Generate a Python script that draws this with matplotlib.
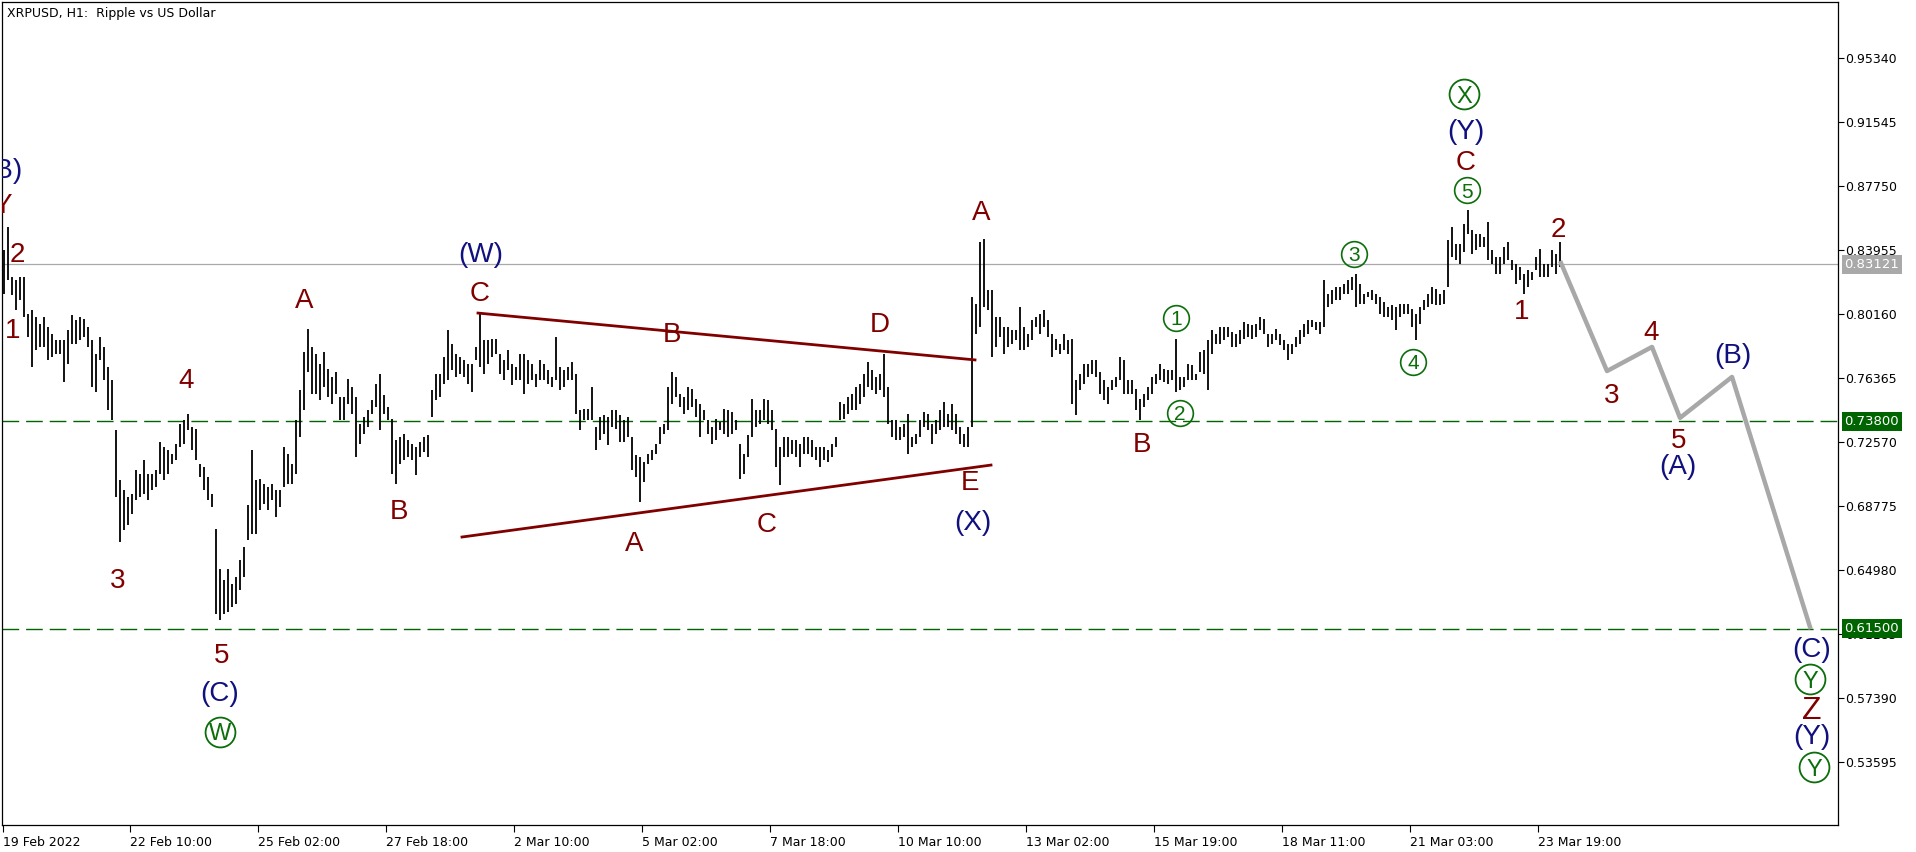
import matplotlib.pyplot as plt
import numpy as np

plt.rcParams['font.family'] = 'DejaVu Sans'

# 2-hour bar ranges (hours counted from 19 Feb 18:00)
highs = [
    0.8395, 0.8533, 0.8237, 0.8217, 0.8237, 0.8237, 0.8019, 0.8039, 0.7999, 0.7959,
    0.7999, 0.7940, 0.7900, 0.7860, 0.7860, 0.7860, 0.7920, 0.8009, 0.7979, 0.7999,
    0.7989, 0.7940, 0.7860, 0.7781, 0.7880, 0.7821, 0.7702, 0.7623, 0.7326, 0.7030,
    0.6970, 0.6931, 0.6950, 0.7089, 0.7069, 0.7148, 0.7069, 0.7069, 0.7089, 0.7257,
    0.7227, 0.7207, 0.7188, 0.7247, 0.7366, 0.7386, 0.7425, 0.7346, 0.7336, 0.7128,
    0.7109, 0.7049, 0.6950, 0.6743, 0.6505, 0.6436, 0.6505, 0.6416, 0.6456, 0.6555,
    0.6634, 0.6881, 0.7207, 0.7030, 0.7040, 0.7010, 0.6990, 0.7010, 0.6970, 0.6970,
    0.7227, 0.7188, 0.7128, 0.7386, 0.7564, 0.7791, 0.7930, 0.7821, 0.7781, 0.7722,
    0.7791, 0.7692, 0.7643, 0.7673, 0.7524, 0.7524, 0.7633, 0.7584, 0.7524, 0.7366,
    0.7405, 0.7445, 0.7504, 0.7603, 0.7663, 0.7534, 0.7465, 0.7396, 0.7267, 0.7287,
    0.7306, 0.7267, 0.7247, 0.7227, 0.7257, 0.7287, 0.7297, 0.7564, 0.7663, 0.7663,
    0.7762, 0.7920, 0.7841, 0.7781, 0.7762, 0.7742, 0.7722, 0.7722, 0.7821, 0.8019,
    0.7860, 0.7860, 0.7870, 0.7870, 0.7781, 0.7742, 0.7801, 0.7722, 0.7702, 0.7781,
    0.7781, 0.7742, 0.7722, 0.7663, 0.7742, 0.7722, 0.7683, 0.7643, 0.7880, 0.7702,
    0.7683, 0.7702, 0.7732, 0.7663, 0.7445, 0.7455, 0.7455, 0.7584, 0.7346, 0.7405,
    0.7415, 0.7405, 0.7445, 0.7445, 0.7415, 0.7386, 0.7405, 0.7287, 0.7178, 0.7168,
    0.7138, 0.7188, 0.7207, 0.7247, 0.7346, 0.7366, 0.7584, 0.7673, 0.7643, 0.7544,
    0.7524, 0.7584, 0.7574, 0.7514, 0.7485, 0.7445, 0.7386, 0.7346, 0.7395, 0.7376,
    0.7455, 0.7445, 0.7435, 0.7386, 0.7247, 0.7188, 0.7297, 0.7514, 0.7445, 0.7445,
    0.7514, 0.7504, 0.7445, 0.7336, 0.7227, 0.7287, 0.7287, 0.7267, 0.7267, 0.7247,
    0.7287, 0.7287, 0.7267, 0.7227, 0.7227, 0.7227, 0.7207, 0.7247, 0.7287, 0.7494,
    0.7484, 0.7524, 0.7544, 0.7584, 0.7603, 0.7663, 0.7732, 0.7683, 0.7643, 0.7663,
    0.7781, 0.7584, 0.7386, 0.7386, 0.7346, 0.7366, 0.7425, 0.7287, 0.7306, 0.7386,
    0.7435, 0.7425, 0.7366, 0.7386, 0.7445, 0.7494, 0.7425, 0.7485, 0.7425, 0.7346,
    0.7306, 0.7346, 0.8118, 0.8078, 0.8444, 0.8464, 0.8157, 0.8157, 0.7999, 0.7999,
    0.7940, 0.7940, 0.7920, 0.7920, 0.8058, 0.7940, 0.7900, 0.7979, 0.7999, 0.8019,
    0.8039, 0.7979, 0.7900, 0.7870, 0.7841, 0.7900, 0.7860, 0.7870, 0.7623, 0.7663,
    0.7722, 0.7722, 0.7742, 0.7742, 0.7673, 0.7623, 0.7584, 0.7623, 0.7643, 0.7762,
    0.7742, 0.7623, 0.7623, 0.7574, 0.7514, 0.7544, 0.7584, 0.7643, 0.7663, 0.7722,
    0.7692, 0.7683, 0.7683, 0.7870, 0.7643, 0.7643, 0.7722, 0.7712, 0.7663, 0.7791,
    0.7801, 0.7860, 0.7920, 0.7900, 0.7940, 0.7940, 0.7940, 0.7910, 0.7900, 0.7920,
    0.7969, 0.7959, 0.7950, 0.7959, 0.7999, 0.7989, 0.7900, 0.7900, 0.7930, 0.7900,
    0.7860, 0.7841, 0.7841, 0.7880, 0.7920, 0.7959, 0.7979, 0.7979, 0.7969, 0.7969,
    0.8217, 0.8137, 0.8157, 0.8177, 0.8177, 0.8197, 0.8217, 0.8236, 0.8256, 0.8197,
    0.8137, 0.8147, 0.8157, 0.8137, 0.8118, 0.8088, 0.8058, 0.8068, 0.8058, 0.8078,
    0.8078, 0.8078, 0.8048, 0.8019, 0.8058, 0.8098, 0.8137, 0.8177, 0.8167, 0.8137,
    0.8157, 0.8454, 0.8533, 0.8434, 0.8434, 0.8553, 0.8632, 0.8513, 0.8493, 0.8493,
    0.8474, 0.8563, 0.8395, 0.8355, 0.8355, 0.8414, 0.8444, 0.8335, 0.8315, 0.8296,
    0.8256, 0.8276, 0.8266, 0.8355, 0.8405, 0.8315, 0.8315, 0.8395, 0.8375, 0.8444,
]
lows = [
    0.8137, 0.8217, 0.8128, 0.8039, 0.8098, 0.7999, 0.7880, 0.7702, 0.7801, 0.7821,
    0.7821, 0.7742, 0.7762, 0.7781, 0.7781, 0.7613, 0.7722, 0.7841, 0.7841, 0.7860,
    0.7880, 0.7821, 0.7584, 0.7554, 0.7742, 0.7623, 0.7445, 0.7386, 0.6931, 0.6664,
    0.6733, 0.6763, 0.6832, 0.6911, 0.6931, 0.6950, 0.6911, 0.6970, 0.6990, 0.7069,
    0.7030, 0.7069, 0.7128, 0.7148, 0.7227, 0.7247, 0.7326, 0.7207, 0.7148, 0.7049,
    0.6970, 0.6911, 0.6871, 0.6238, 0.6199, 0.6238, 0.6248, 0.6278, 0.6298, 0.6377,
    0.6456, 0.6674, 0.6713, 0.6713, 0.6852, 0.6891, 0.6852, 0.6911, 0.6812, 0.6871,
    0.6990, 0.7010, 0.7010, 0.7069, 0.7287, 0.7445, 0.7673, 0.7544, 0.7544, 0.7504,
    0.7584, 0.7524, 0.7485, 0.7544, 0.7386, 0.7386, 0.7485, 0.7425, 0.7168, 0.7247,
    0.7306, 0.7346, 0.7425, 0.7465, 0.7326, 0.7425, 0.7386, 0.7069, 0.7010, 0.7128,
    0.7148, 0.7168, 0.7148, 0.7059, 0.7168, 0.7198, 0.7168, 0.7405, 0.7504, 0.7524,
    0.7603, 0.7623, 0.7683, 0.7643, 0.7663, 0.7643, 0.7603, 0.7554, 0.7742, 0.7702,
    0.7663, 0.7722, 0.7762, 0.7781, 0.7663, 0.7623, 0.7683, 0.7593, 0.7623, 0.7623,
    0.7544, 0.7603, 0.7623, 0.7584, 0.7623, 0.7623, 0.7603, 0.7584, 0.7623, 0.7564,
    0.7584, 0.7623, 0.7623, 0.7425, 0.7326, 0.7386, 0.7386, 0.7386, 0.7207, 0.7267,
    0.7306, 0.7237, 0.7346, 0.7336, 0.7257, 0.7257, 0.7287, 0.7089, 0.7049, 0.6901,
    0.7020, 0.7128, 0.7148, 0.7188, 0.7247, 0.7306, 0.7326, 0.7485, 0.7524, 0.7465,
    0.7425, 0.7445, 0.7465, 0.7405, 0.7287, 0.7386, 0.7306, 0.7247, 0.7267, 0.7326,
    0.7306, 0.7287, 0.7306, 0.7326, 0.7040, 0.7069, 0.7168, 0.7287, 0.7346, 0.7366,
    0.7386, 0.7366, 0.7326, 0.7109, 0.7000, 0.7168, 0.7168, 0.7188, 0.7168, 0.7109,
    0.7188, 0.7188, 0.7168, 0.7148, 0.7109, 0.7148, 0.7138, 0.7168, 0.7227, 0.7386,
    0.7396, 0.7425, 0.7445, 0.7445, 0.7485, 0.7524, 0.7584, 0.7564, 0.7544, 0.7564,
    0.7524, 0.7366, 0.7287, 0.7267, 0.7267, 0.7287, 0.7188, 0.7227, 0.7247, 0.7287,
    0.7346, 0.7326, 0.7247, 0.7306, 0.7326, 0.7346, 0.7346, 0.7326, 0.7306, 0.7247,
    0.7227, 0.7227, 0.7346, 0.7900, 0.7940, 0.8058, 0.8039, 0.7762, 0.7821, 0.7880,
    0.7781, 0.7821, 0.7841, 0.7860, 0.7801, 0.7801, 0.7821, 0.7860, 0.7940, 0.7900,
    0.7940, 0.7880, 0.7762, 0.7801, 0.7781, 0.7801, 0.7781, 0.7485, 0.7415, 0.7564,
    0.7603, 0.7643, 0.7663, 0.7643, 0.7544, 0.7504, 0.7485, 0.7564, 0.7584, 0.7623,
    0.7544, 0.7544, 0.7544, 0.7445, 0.7386, 0.7465, 0.7504, 0.7544, 0.7603, 0.7623,
    0.7613, 0.7603, 0.7623, 0.7554, 0.7564, 0.7584, 0.7623, 0.7623, 0.7623, 0.7673,
    0.7663, 0.7564, 0.7781, 0.7841, 0.7841, 0.7860, 0.7880, 0.7821, 0.7821, 0.7841,
    0.7870, 0.7880, 0.7870, 0.7880, 0.7920, 0.7900, 0.7821, 0.7841, 0.7860, 0.7831,
    0.7801, 0.7742, 0.7781, 0.7821, 0.7841, 0.7880, 0.7900, 0.7940, 0.7920, 0.7900,
    0.7940, 0.8058, 0.8078, 0.8098, 0.8098, 0.8137, 0.8137, 0.8157, 0.8058, 0.8078,
    0.8078, 0.8118, 0.8098, 0.8078, 0.8019, 0.7999, 0.7999, 0.7979, 0.7920, 0.7999,
    0.8019, 0.8019, 0.7940, 0.7860, 0.7959, 0.8039, 0.8058, 0.8078, 0.8068, 0.8068,
    0.8078, 0.8177, 0.8355, 0.8335, 0.8315, 0.8385, 0.8493, 0.8375, 0.8395, 0.8414,
    0.8414, 0.8335, 0.8315, 0.8256, 0.8256, 0.8315, 0.8335, 0.8276, 0.8197, 0.8217,
    0.8137, 0.8177, 0.8217, 0.8276, 0.8236, 0.8236, 0.8236, 0.8296, 0.8256, 0.8296,
]
bar_hours = np.arange(len(highs)) * 2 + 1

time_ticks = [0.5, 64, 128, 192, 256, 320, 384, 448, 512, 576, 640, 704, 768]
time_labels = ['19 Feb 2022', '22 Feb 10:00', '25 Feb 02:00', '27 Feb 18:00',
               '2 Mar 10:00', '5 Mar 02:00', '7 Mar 18:00', '10 Mar 10:00',
               '13 Mar 02:00', '15 Mar 19:00', '18 Mar 11:00', '21 Mar 03:00',
               '23 Mar 19:00']
price_ticks = [0.95340, 0.91545, 0.87750, 0.83955, 0.80160, 0.76365,
               0.72570, 0.68775, 0.64980, 0.61185, 0.57390, 0.53595]

last_price = 0.83121
levels = [0.73800, 0.61500]

# forecast path (grey) and triangle borders
path_hours = [779.5, 802.5, 825, 839, 865, 904]
path_prices = [0.8319, 0.7678, 0.7821, 0.7400, 0.7643, 0.6159]
upper_hours = [238, 486.5]
upper_prices = [0.8022, 0.7744]
lower_hours = [230, 494.5]
lower_prices = [0.6693, 0.7120]

# wave marks: hour, price, text, kind
waves = [
    (0.75, 0.8865, '(B)', 'b'), (0.35, 0.8675, 'Y', 'r'),
    (7.5, 0.8384, '2', 'r'), (5.5, 0.7933, '1', 'r'),
    (58, 0.6450, '3', 'r'), (92, 0.7637, '4', 'r'), (110, 0.6005, '5', 'r'),
    (109, 0.5761, '(C)', 'b'), (109, 0.5536, 'W', 'c'),
    (151, 0.8111, 'A', 'r'), (198.5, 0.6859, 'B', 'r'),
    (239.5, 0.8367, '(W)', 'b'), (239, 0.8153, 'C', 'r'),
    (335, 0.7910, 'B', 'r'), (439, 0.7969, 'D', 'r'),
    (316, 0.6669, 'A', 'r'), (382.5, 0.6782, 'C', 'r'),
    (489.5, 0.8634, 'A', 'r'), (484, 0.7031, 'E', 'r'), (485.5, 0.6776, '(X)', 'b'),
    (570, 0.7257, 'B', 'r'),
    (587, 0.7993, '1', 'n'), (589, 0.7429, '2', 'n'), (676, 0.8373, '3', 'n'),
    (705.5, 0.7732, '4', 'n'), (732.5, 0.8752, '5', 'n'),
    (732, 0.8930, 'C', 'r'), (732, 0.9097, '(Y)', 'b'), (731, 0.9322, 'X', 'c'),
    (760, 0.8046, '1', 'r'), (778, 0.8533, '2', 'r'), (805, 0.7548, '3', 'r'),
    (824.5, 0.7922, '4', 'r'), (838.5, 0.7281, '5', 'r'), (838, 0.7109, '(A)', 'b'),
    (865.5, 0.7767, '(B)', 'b'),
    (905, 0.6022, '(C)', 'b'), (904, 0.5850, 'Y', 'c'), (905, 0.5680, 'Z', 'z'),
    (905, 0.5506, '(Y)', 'b'), (906, 0.5328, 'Y', 'c'),
]

maroon = '#800000'
navy = '#10107e'
green = '#0b6e0b'
lab_font = 'Liberation Sans'

fig = plt.figure(figsize=(19.16, 8.52), dpi=100)
ax = fig.add_axes([2 / 1916, 27 / 852, 1836 / 1916, 823 / 852])
ax.set_xlim(0, 918)
ax.set_ylim(0.4984, 0.9868)

ax.axhline(last_price, color='#a9a9a9', lw=0.9, zorder=1)
for lv in levels:
    ax.axhline(lv, color='#006400', lw=1.0, ls=(0, (12, 5)), zorder=1)

ax.vlines(bar_hours, lows, highs, color='black', lw=1.3, zorder=2)

ax.plot(upper_hours, upper_prices, color=maroon, lw=2.0, zorder=3)
ax.plot(lower_hours, lower_prices, color=maroon, lw=2.0, zorder=3)
ax.plot(path_hours, path_prices, color='#a8a8a8', lw=3.2, zorder=3)

for h, p, txt, kind in waves:
    if kind == 'r':
        ax.text(h, p, txt, color=maroon, fontsize=20, family=lab_font,
                ha='center', va='center_baseline', clip_on=True, zorder=4)
    elif kind == 'z':
        ax.text(h, p, txt, color=maroon, fontsize=23, family=lab_font,
                ha='center', va='center_baseline', clip_on=True, zorder=4)
    elif kind == 'b':
        ax.text(h, p, txt, color=navy, fontsize=20, family=lab_font,
                ha='center', va='center', clip_on=True, zorder=4)
    elif kind == 'c':
        ax.plot(h, p, 'o', ms=21.5, mfc='none', mec=green, mew=1.3, zorder=4)
        ax.text(h, p, txt, color=green, fontsize=17, family=lab_font,
                ha='center', va='center_baseline', zorder=4)
    else:
        ax.plot(h, p, 'o', ms=18.5, mfc='none', mec=green, mew=1.2, zorder=4)
        ax.text(h, p, txt, color=green, fontsize=15, family=lab_font,
                ha='center', va='center_baseline', zorder=4)

for sp in ax.spines.values():
    sp.set_linewidth(0.9)
    sp.set_color('black')

ax.yaxis.tick_right()
ax.set_yticks(price_ticks)
ax.set_yticklabels([f'{v:.5f}' for v in price_ticks])
ax.tick_params(axis='y', direction='out', length=4, width=0.8, pad=1, labelsize=9)
ax.set_xticks(time_ticks)
ax.set_xticklabels(time_labels, ha='left')
ax.tick_params(axis='x', direction='out', length=5, width=0.8, pad=3, labelsize=9)

tr = ax.get_yaxis_transform()
ax.text(1.0035, last_price, f'{last_price:.5f}', transform=tr, color='white',
        fontsize=9.5, va='center', ha='left', clip_on=False, zorder=6,
        bbox=dict(boxstyle='square,pad=0.22', fc='#a9a9a9', ec='none'))
for lv in levels:
    ax.text(1.0035, lv, f'{lv:.5f}', transform=tr, color='white',
            fontsize=9.5, va='center', ha='left', clip_on=False, zorder=6,
            bbox=dict(boxstyle='square,pad=0.22', fc='#006400', ec='none'))

fig.text(7 / 1916, 1 - 13 / 852, 'XRPUSD, H1:  Ripple vs US Dollar',
         fontsize=9, va='center', ha='left')

fig.savefig('out.png', dpi=100)
